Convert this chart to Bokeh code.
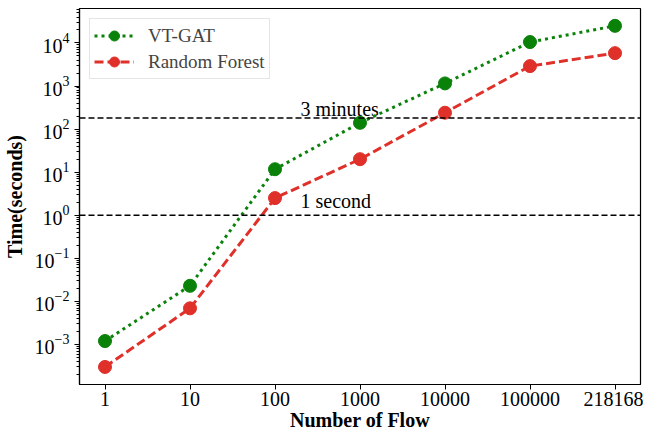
from bokeh.plotting import figure
from bokeh.models import Range1d, FixedTicker, Span, Legend, LegendItem, ColumnDataSource
from bokeh.core.properties import value
from bokeh.embed import file_html
from bokeh.resources import INLINE

flows = ["1", "10", "100", "1000", "10000", "100000", "218168"]
vt_gat = [1.2e-3, 0.023, 11.7, 140, 1150, 10500, 25000]
random_forest = [3.0e-4, 0.0069, 2.5, 20, 240, 2900, 5800]
ref_lines = [180, 1]
ref_labels = ["3 minutes", "1 second"]
ref_label_x = [2.3, 2.3]
ref_label_y = [180, 1.3]

FONT = "Liberation Serif"
GREEN = "#0a820a"
RED = "#e0302a"

x_idx = list(range(len(flows)))
src = ColumnDataSource(dict(x=x_idx, vt=vt_gat, rf=random_forest))

p = figure(width=643, height=434, y_axis_type="log",
           x_range=Range1d(-0.3, len(flows) - 1 + 0.3),
           y_range=Range1d(10 ** -3.93, 10 ** 4.8),
           output_backend="svg", toolbar_location=None,
           min_border_left=71, min_border_right=3, min_border_top=8, min_border_bottom=50)

p.xgrid.visible = False
p.ygrid.visible = False
p.outline_line_color = "black"
p.outline_line_width = 1.2
p.outline_line_alpha = 1

p.xaxis.ticker = FixedTicker(ticks=x_idx)
p.xaxis.major_label_overrides = {i: f for i, f in zip(x_idx, flows)}
p.xaxis.minor_tick_line_color = None

for ax in (p.xaxis, p.yaxis):
    ax.major_label_text_font = FONT
    ax.major_label_text_font_size = "20px"
    ax.major_label_text_color = "black"
    ax.axis_label_text_font = FONT
    ax.axis_label_text_font_size = "20px"
    ax.axis_label_text_font_style = "bold"
    ax.axis_label_text_color = "black"
    ax.axis_line_color = "black"
    ax.axis_line_width = 1.2
    ax.major_tick_line_color = "black"
    ax.major_tick_out = 5
    ax.major_tick_in = 0
    ax.minor_tick_out = 3
    ax.minor_tick_in = 0

p.xaxis.axis_label = "Number of Flow"
p.yaxis.axis_label = "Time(seconds)"
p.xaxis.major_label_standoff = 2
p.xaxis.axis_label_standoff = 0
p.yaxis.axis_label_standoff = 6

for loc in ref_lines:
    p.add_layout(Span(location=loc, dimension="width", line_color="black",
                      line_dash="6 3", line_width=1.5))

lab_src = ColumnDataSource(dict(x=ref_label_x, y=ref_label_y, t=ref_labels))
p.text("x", "y", text="t", source=lab_src, text_font=value(FONT),
       text_font_size="20px", text_color="black", text_baseline="bottom",
       text_align="left", y_offset=2)

l1 = p.line("x", "vt", source=src, line_color=GREEN, line_width=3, line_dash="3 4")
c1 = p.scatter("x", "vt", source=src, size=13, fill_color=GREEN, line_color=GREEN)
l2 = p.line("x", "rf", source=src, line_color=RED, line_width=3, line_dash="9 4")
c2 = p.scatter("x", "rf", source=src, size=13, fill_color=RED, line_color=RED)

legend = Legend(items=[LegendItem(label="VT-GAT", renderers=[l1, c1]),
                       LegendItem(label="Random Forest", renderers=[l2, c2])],
                location="top_left")
legend.label_text_font = FONT
legend.label_text_font_size = "19px"
legend.border_line_color = "#cccccc"
legend.border_line_width = 1
legend.margin = 10
legend.padding = 4
legend.spacing = 1
legend.glyph_width = 40
legend.glyph_height = 25
legend.label_standoff = 14
legend.background_fill_alpha = 0.9
p.add_layout(legend)

open("out.html", "w").write(file_html(p, INLINE))
